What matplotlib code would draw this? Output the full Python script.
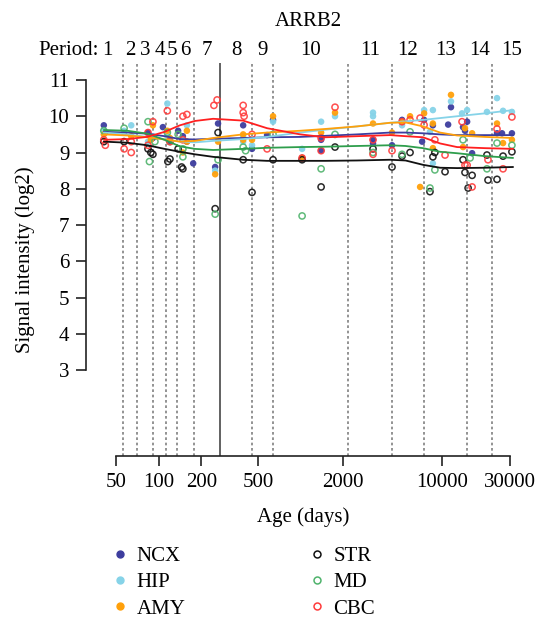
import matplotlib
matplotlib.use('Agg')
import matplotlib.pyplot as plt
from matplotlib.lines import Line2D
import matplotlib.transforms as mtransforms

plt.rcParams['font.family'] = ['Liberation Serif', 'DejaVu Serif']

# ---------------- data ----------------
gene = "ARRB2"
regions = ["NCX", "HIP", "AMY", "STR", "MD", "CBC"]
filled = [True, True, True, False, False, False]
colors = ["#3D3D9E", "#86D3E8", "#FFA00A", "#111111", "#4FB36C", "#FF3B3B"]
line_colors = ["#3D3D9E", "#86D3E8", "#FFA00A", "#111111", "#2E9E4C", "#FF2020"]

period_labels = [str(i) for i in range(1, 16)]
period_bounds = [33.6, 56, 70, 91, 113, 134, 177, 271, 456, 640, 2150, 4400, 7440, 14960, 22550, 41600]
birth_day = 271

x_ticks = [50, 100, 200, 500, 2000, 10000, 30000]
y_ticks = [3, 4, 5, 6, 7, 8, 9, 10, 11]

# scatter points (age in days, log2 signal)
ncx_age = [41, 42, 57, 84, 91, 107, 120, 137, 148, 158, 175, 250, 262, 394, 455, 581, 640,
           1026, 1397, 1397, 3245, 3245, 4418, 5200, 7200, 7440, 8580, 10990, 11510, 14960,
           14450, 16220, 24300, 26360, 30960, 13990]
ncx_val = [9.75, 9.55, 9.55, 9.55, 9.4, 9.7, 9.3, 9.6, 9.45, 9.3, 8.7, 8.6, 9.8, 9.75, 9.1, 9.48, 9.9,
           8.85, 9.35, 9.05, 9.35, 9.25, 9.2, 9.9, 9.3, 9.9, 9.75, 9.77, 10.25, 9.85,
           9.6, 8.98, 9.53, 9.53, 9.53, 9.7]

hip_age = [41, 64, 57, 91, 84, 115, 115, 158, 148, 250, 262, 394, 394, 455, 640, 1026, 1397,
           1751, 3245, 3245, 5200, 7440, 8180, 8580, 8580, 11510, 13770, 14960, 20640, 24300,
           26800, 30960]
hip_val = [9.6, 9.75, 9.6, 9.45, 9.3, 10.35, 9.45, 9.75, 9.35, 8.5, 9.35, 9.45, 9.3, 9.2, 9.85, 9.1, 9.85,
           10.0, 10.1, 10.0, 9.75, 10.17, 9.57, 8.7, 10.17, 10.41, 10.08, 10.17, 10.12, 10.5,
           10.15, 10.12]

amy_age = [41, 64, 91, 88, 115, 120, 158, 158, 148, 250, 262, 394, 394, 455, 640, 1026, 1397,
           1751, 3245, 4418, 5200, 5920, 6970, 7440, 8580, 8580, 11510, 14450, 16220, 14000,
           24300, 30960, 26800]
amy_val = [9.5, 9.45, 9.75, 9.35, 9.6, 9.4, 9.6, 9.3, 9.0, 8.4, 9.3, 9.5, 9.35, 9.35, 10.0, 8.85, 9.55,
           10.1, 9.8, 9.55, 9.85, 10.0, 8.05, 10.08, 9.8, 9.12, 10.59, 9.67, 9.53, 9.15,
           9.8, 9.35, 9.26]

str_age = [41, 57, 84, 91, 88, 116, 120, 148, 145, 137, 250, 262, 394, 455, 640, 1026, 1397,
           1751, 3245, 4418, 5200, 5920, 8180, 8580, 8860, 10450, 13990, 14450, 16220, 15200,
           20640, 21000, 24300, 26800, 30960]
str_val = [9.3, 9.3, 9.1, 8.95, 9.0, 8.75, 8.82, 8.55, 8.6, 9.1, 7.45, 9.55, 8.8, 7.9, 8.8, 8.8, 8.05,
           9.15, 9.1, 8.6, 8.9, 9.0, 7.92, 8.88, 9.0, 8.47, 8.8, 8.45, 8.37, 8.02,
           8.93, 8.24, 8.26, 8.9, 9.02]

md_age = [41, 57, 84, 86, 94, 120, 115, 148, 148, 137, 250, 262, 394, 410, 640, 1026, 1397,
          1751, 3245, 5200, 5920, 8180, 8860, 13990, 15700, 20640, 24300, 30960]
md_val = [9.6, 9.67, 9.85, 8.75, 9.3, 9.3, 9.55, 9.1, 8.88, 9.5, 7.3, 8.8, 9.15, 9.05, 9.5, 7.25, 8.55,
          9.5, 9.0, 8.95, 9.57, 8.02, 8.52, 9.35, 8.85, 8.55, 9.26, 9.2]

cbc_age = [41, 42, 57, 64, 64, 91, 84, 84, 115, 120, 148, 158, 148, 245, 258, 394, 394, 400,
           455, 581, 1026, 1397, 1397, 1751, 3245, 3245, 4418, 5200, 5920, 6970, 7440, 8860,
           10450, 13770, 14450, 14960, 16220, 20990, 24300, 26800, 30960]
cbc_val = [9.35, 9.2, 9.1, 9.0, 9.3, 9.85, 9.55, 9.2, 10.15, 9.3, 10.0, 10.05, 9.35, 10.3, 10.45, 10.3, 10.1, 10.0,
           9.5, 9.1, 8.85, 9.4, 9.05, 10.25, 9.35, 8.95, 9.05, 9.85, 9.9, 9.95, 9.76, 9.35,
           8.93, 9.85, 8.65, 8.65, 8.05, 8.8, 9.65, 8.55, 9.98]

# fitted curves
curve_age = [41, 60, 83, 110, 141, 180, 242, 393, 581, 993, 1500, 2505, 4280, 5500, 7310, 9640, 12700, 20000, 31550]
ncx_curve = [9.57, 9.55, 9.52, 9.45, 9.37, 9.36, 9.38, 9.40, 9.42, 9.43, 9.46, 9.50, 9.55, 9.55, 9.53, 9.50, 9.48, 9.48, 9.48]
hip_curve = [9.55, 9.50, 9.43, 9.36, 9.30, 9.28, 9.32, 9.37, 9.43, 9.55, 9.63, 9.72, 9.82, 9.86, 9.90, 9.95, 10.00, 10.08, 10.17]
amy_curve = [9.50, 9.47, 9.42, 9.36, 9.30, 9.32, 9.40, 9.50, 9.55, 9.60, 9.65, 9.72, 9.82, 9.83, 9.72, 9.55, 9.47, 9.43, 9.40]
str_curve = [9.30, 9.27, 9.20, 9.10, 9.02, 8.95, 8.88, 8.80, 8.77, 8.77, 8.77, 8.78, 8.80, 8.78, 8.66, 8.58, 8.57, 8.58, 8.60]
md_curve = [9.62, 9.60, 9.52, 9.35, 9.17, 9.10, 9.07, 9.10, 9.13, 9.15, 9.16, 9.18, 9.20, 9.18, 9.12, 9.02, 8.98, 8.90, 8.85]
cbc_curve = [9.35, 9.37, 9.43, 9.57, 9.75, 9.87, 9.93, 9.88, 9.67, 9.50, 9.42, 9.45, 9.48, 9.45, 9.42, 9.25, 9.15, 9.12, 9.10]

ages = [ncx_age, hip_age, amy_age, str_age, md_age, cbc_age]
vals = [ncx_val, hip_val, amy_val, str_val, md_val, cbc_val]
curves = [ncx_curve, hip_curve, amy_curve, str_curve, md_curve, cbc_curve]

# ---------------- figure ----------------
FS = 15
W, H = 535, 618
fig = plt.figure(figsize=(W / 100, H / 100), dpi=100)
ax = fig.add_axes([86 / W, (H - 456) / H, (520 - 86) / W, (456 - 63) / H])
ax.set_xscale('log')
ax.set_xlim(30.7, 35300)
ax.set_ylim(0.628, 11.469)

# period boundaries
for b in period_bounds[1:-1]:
    if b == birth_day:
        ax.axvline(b, color='#555555', lw=1.3, zorder=1)
    else:
        ax.axvline(b, color='#808080', lw=1.2, ls=(0, (1.6, 1.6)), zorder=1)

# points
for a, v, c, f in zip(ages, vals, colors, filled):
    if f:
        ax.scatter(a, v, s=22, color=c, edgecolors='none', alpha=0.95, zorder=3)
    else:
        ax.scatter(a, v, s=20, facecolors='none', edgecolors=c, linewidths=1.1, alpha=0.9, zorder=3)

# curves
for cv, lc in zip(curves, line_colors):
    ax.plot(curve_age, cv, color=lc, lw=1.3, zorder=4, solid_capstyle='round')

# axes styling
for s in ['top', 'right']:
    ax.spines[s].set_visible(False)
ax.spines['left'].set_bounds(3, 11)
ax.spines['bottom'].set_bounds(50, 30000)
for s in ['left', 'bottom']:
    ax.spines[s].set_linewidth(1.2)
    ax.spines[s].set_color('#222222')
ax.set_xticks(x_ticks)
ax.set_xticklabels([str(t) for t in x_ticks])
ax.xaxis.set_minor_locator(matplotlib.ticker.NullLocator())
ax.set_yticks(y_ticks)
ax.tick_params(axis='both', labelsize=FS, length=7, width=1.2, color='#222222', pad=5)
ax.set_xlabel("Age (days)", fontsize=FS, labelpad=11)
ax.set_ylabel("Signal intensity (log2)", fontsize=FS, labelpad=10)

# period labels above plot
trans = mtransforms.blended_transform_factory(ax.transData, fig.transFigure)
ylab = 1 - 50.5 / H
for i, lab in enumerate(period_labels):
    lo, hi = period_bounds[i], period_bounds[i + 1]
    xm = (lo * hi) ** 0.5
    ax.text(xm, ylab, lab, transform=trans, ha='center', va='center', fontsize=FS, clip_on=False)
fig.text(99 / W, ylab, "Period:", ha='right', va='center', fontsize=FS)
fig.text(308 / W, 1 - 22 / H, gene, ha='center', va='center', fontsize=FS)

# legend
handles = []
for r, c, f in zip(regions, colors, filled):
    if f:
        h = Line2D([], [], ls='none', marker='o', markersize=5, markerfacecolor=c, markeredgecolor=c)
    else:
        h = Line2D([], [], ls='none', marker='o', markersize=5, markerfacecolor='none',
                   markeredgecolor=c, markeredgewidth=1.1)
    handles.append(h)
fig.legend(handles, regions, ncol=2, loc='upper left', bbox_to_anchor=(97 / W, 1 - 532 / H),
           frameon=False, fontsize=FS, handlelength=0.8, handletextpad=0.4,
           columnspacing=5.9, labelspacing=0.32, borderpad=0.2)

fig.savefig("out.png", dpi=100)
